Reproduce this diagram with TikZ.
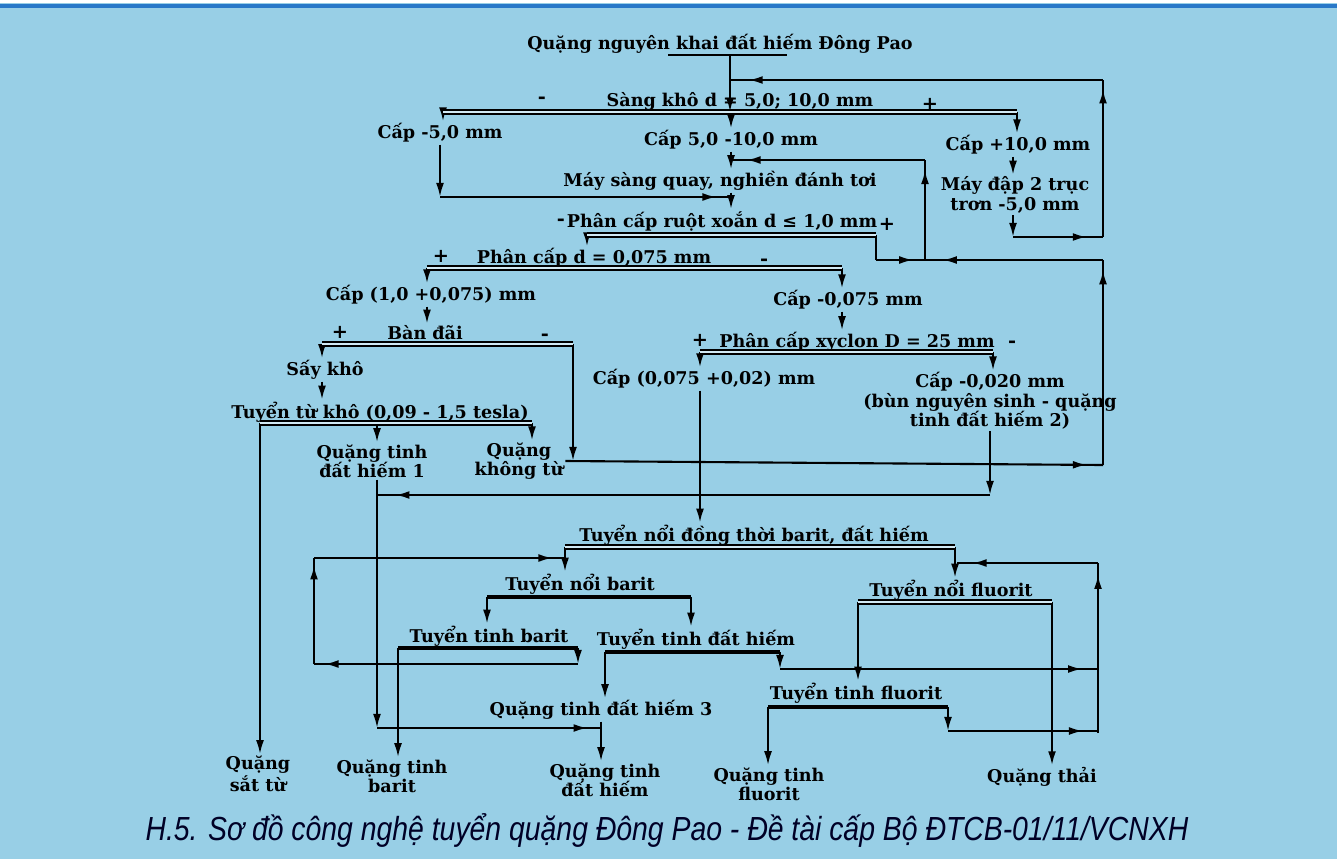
\documentclass[tikz,border=0pt]{standalone}
\usepackage{fontspec}
\newfontfamily\diagfont{DejaVu Serif}
\newfontfamily\capfont{Liberation Sans}[FakeStretch=0.85]
\usetikzlibrary{arrows.meta,decorations.markings}
\definecolor{paper}{RGB}{152,207,230}
\definecolor{rule}{RGB}{40,120,200}
\tikzset{
  lbl/.style={font=\diagfont\bfseries\fontsize{10}{11}\selectfont,inner sep=1pt,align=center},
  sgn/.style={font=\diagfont\bfseries\fontsize{11}{11}\selectfont,inner sep=0pt},
  wire/.style={line width=1.2pt},
  flow/.style={wire,-{Latex[length=8pt,width=4.5pt]}},
  midarrow/.style={wire,postaction={decorate,decoration={markings,
      mark=at position #1 with {\arrow{Latex[length=8pt,width=4.5pt]}}}}},
  splitbar/.style={double=white!55!paper,double distance=1pt,line width=1.3pt},
  heavybar/.style={line width=2.6pt},
}
\begin{document}
\begin{tikzpicture}[x=0.02cm,y=-0.02cm]
\useasboundingbox (0,0) rectangle (1337,859);
\fill[paper] (0,0) rectangle (1337,859);
\fill[white] (0,0) rectangle (1337,3);
\draw[rule,line width=2pt] (0,6) -- (1337,6);

% stages and products
\node[lbl] (title) at (720,44) {Quặng nguyên khai đất hiếm Đông Pao};
\node[lbl] (sang) at (740,101) {Sàng khô d = 5,0; 10,0 mm};
\node[lbl] (c5) at (440,133) {Cấp -5,0 mm};
\node[lbl] (c510) at (731,140) {Cấp 5,0 -10,0 mm};
\node[lbl] (c10) at (1018,145) {Cấp +10,0 mm};
\node[lbl] (sq) at (720,181) {Máy sàng quay, nghiền đánh tơi};
\node[lbl] (dap) at (1015,195) {Máy đập 2 trục\\trơn -5,0 mm};
\node[lbl] (rx) at (722,221) {Phân cấp ruột xoắn d ≤ 1,0 mm};
\node[lbl] (pc1) at (594,258) {Phân cấp d = 0,075 mm};
\node[lbl] (c1) at (431,295) {Cấp (1,0 +0,075) mm};
\node[lbl] (c0075) at (848,300) {Cấp -0,075 mm};
\node[lbl] (bd) at (425,333) {Bàn đãi};
\node[lbl] (xc) at (857,342) {Phân cấp xyclon D = 25 mm};
\node[lbl] (sk) at (325,370) {Sấy khô};
\node[lbl] (c002) at (704,379) {Cấp (0,075 +0,02) mm};
\node[lbl] (c0020) at (990,401) {Cấp -0,020 mm\\(bùn nguyên sinh - quặng\\tinh đất hiếm 2)};
\node[lbl] (ttk) at (380,412) {Tuyển từ khô (0,09 - 1,5 tesla)};
\node[lbl] (qt1) at (372,461) {Quặng tinh\\đất hiếm 1};
\node[lbl] (qkt) at (519,461) {Quặng\\không từ};
\node[lbl] (tndt) at (754,535) {Tuyển nổi đồng thời barit, đất hiếm};
\node[lbl] (tnb) at (580,584) {Tuyển nổi barit};
\node[lbl] (tnf) at (951,590) {Tuyển nổi fluorit};
\node[lbl] (ttb) at (489,636) {Tuyển tinh barit};
\node[lbl] (ttd) at (696,639) {Tuyển tinh đất hiếm};
\node[lbl] (ttf) at (856,693) {Tuyển tinh fluorit};
\node[lbl] (qt3) at (601,710) {Quặng tinh đất hiếm 3};
\node[lbl] (qst) at (258,774) {Quặng\\sắt từ};
\node[lbl] (qtb) at (392,776) {Quặng tinh\\barit};
\node[lbl] (qtd) at (605,780) {Quặng tinh\\đất hiếm};
\node[lbl] (qtf) at (769,784) {Quặng tinh\\fluorit};
\node[lbl] (qth) at (1042,777) {Quặng thải};

% signs of the classifier outputs
\node[sgn] (m1) at (542,100) {-};  \node[sgn] (p1) at (930,104) {+};
\node[sgn] (m2) at (561,222) {-};  \node[sgn] (p2) at (887,224) {+};
\node[sgn] (p3) at (441,256) {+};  \node[sgn] (m3) at (764,262) {-};
\node[sgn] (p4) at (340,332) {+};  \node[sgn] (m4) at (545,337) {-};
\node[sgn] (p5) at (700,340) {+};  \node[sgn] (m5) at (1012,344) {-};

% split bars
\coordinate (b1l) at (443,112); \coordinate (b1r) at (1017,112);
\coordinate (b2l) at (587,235); \coordinate (b2r) at (876,235);
\coordinate (b3l) at (427,268); \coordinate (b3r) at (842,268);
\coordinate (b4l) at (322,344); \coordinate (b4r) at (573,344);
\coordinate (b5l) at (260,423); \coordinate (b5r) at (532,423);
\coordinate (b6l) at (700,352); \coordinate (b6r) at (993,352);
\coordinate (b7l) at (565,547); \coordinate (b7r) at (955,547);
\coordinate (b8l) at (487,597); \coordinate (b8r) at (691,597);
\coordinate (b9l) at (858,602); \coordinate (b9r) at (1052,602);
\coordinate (b10l) at (398,648); \coordinate (b10r) at (578,648);
\coordinate (b11l) at (605,652); \coordinate (b11r) at (780,652);
\coordinate (b12l) at (768,707); \coordinate (b12r) at (948,707);

% junctions
\coordinate (feed) at (730,55);
\coordinate (xd) at (1013,0); \coordinate (x1) at (377,0);
\coordinate (k1) at (1013,237); \coordinate (k2) at (1103,237);
\coordinate (k3) at (1103,80);  \coordinate (k4) at (730,80);
\coordinate (j5) at (440,197);  \coordinate (jsq) at (731,197);
\coordinate (j6) at (876,260);  \coordinate (j7) at (925,260);
\coordinate (j8) at (925,160);  \coordinate (j9) at (731,160);
\coordinate (j10) at (1103,260); \coordinate (j11) at (1103,465);
\coordinate (j20) at (377,728); \coordinate (j21) at (990,495);
\coordinate (j30) at (578,664); \coordinate (j31) at (314,664);
\coordinate (j32) at (314,558); \coordinate (j33) at (565,558);
\coordinate (j40) at (1098,733); \coordinate (j41) at (1098,563);
\coordinate (j42) at (957,563);
\coordinate (j50) at (780,669); \coordinate (j51) at (948,731);

% crushing and screening
\draw[wire] (668,55) -- (787,55);
\draw[flow] (feed) -- (feed |- b1l);
\draw[flow] (b1l) -- (b1l |- c5.north);
\draw[flow] (c510.north |- b1l) -- (c510.north);
\draw[flow] (b1r) -- (b1r |- c10.north);
\draw[flow] (xd |- c10.south) -- (xd |- dap.north);
\draw[flow] (xd |- dap.south) -- (k1);
\draw[midarrow=0.82] (k1) -- (k2);
\draw[midarrow=0.94] (k2) -- (k3);
\draw[midarrow=0.95] (k3) -- (k4);
\draw[flow] (c510.south) -- (c510.south |- sq.north);
\draw[flow] (c5.south) -- (j5);
\draw[midarrow=0.95] (j5) -- (jsq);
\draw[flow] (jsq |- sq.south) -- (jsq |- rx.north);

% spiral classifier and returns
\draw[flow] (b2l) -- (b2l |- pc1.north);
\draw[wire] (b2r) -- (j6);
\draw[midarrow=0.76] (j6) -- (j7);
\draw[midarrow=0.9] (j7) -- (j8);
\draw[midarrow=0.92] (j8) -- (j9);
\draw[midarrow=0.97] (qkt.east) -- (j11);
\draw[midarrow=0.95] (j11) -- (j10);
\draw[midarrow=0.9] (j10) -- (j7);

% 0,075 mm classification
\draw[flow] (b3l) -- (b3l |- c1.north);
\draw[flow] (b3r) -- (b3r |- c0075.north);
\draw[flow] (b3l |- c1.south) -- (b3l |- bd.north);
\draw[flow] (b3r |- c0075.south) -- (b3r |- xc.north);

% shaking table and dry magnetic separation
\draw[flow] (b4l) -- (b4l |- sk.north);
\draw[flow] (b4l |- sk.south) -- (b4l |- ttk.north);
\draw[flow] (b4r) -- (b4r |- qkt.east);
\draw[flow] (b5l) -- (b5l |- qst.north);
\draw[flow] (x1 |- b5l) -- (x1 |- qt1.north);
\draw[flow] (b5r) -- (b5r |- qkt.north);
\draw[flow] (x1 |- qt1.south) -- (j20);
\draw[midarrow=0.94] (j20) -- (j20 -| qt3.south);
\draw[flow] (qt3.south) -- (qt3.south |- qtd.north);

% hydrocyclone
\draw[flow] (b6l) -- (b6l |- c002.north);
\draw[flow] (b6r) -- (b6r |- c0020.north);
\draw[flow] (b6l |- c002.south) -- (b6l |- tndt.north);
\draw[flow] (c0020.south) -- (j21);
\draw[midarrow=0.97] (j21) -- (j21 -| x1);

% flotation
\draw[flow] (b7l) -- (b7l |- tnb.north);
\draw[flow] (b7r) -- (b7r |- tnf.north);
\draw[flow] (b8l) -- (b8l |- ttb.north);
\draw[flow] (b8r) -- (b8r |- ttd.north);
\draw[flow] (b10l) -- (b10l |- qtb.north);
\draw[flow] (b10r) -- (j30);
\draw[midarrow=0.96] (j30) -- (j31);
\draw[midarrow=0.93] (j31) -- (j32);
\draw[midarrow=0.95] (j32) -- (j33);
\draw[flow] (b11l) -- (b11l |- qt3.north);
\draw[flow] (b11r) -- (j50);
\draw[midarrow=0.95] (j50) -- (j50 -| j40);
\draw[flow] (b9l) -- (b9l |- ttf.north);
\draw[flow] (b9r) -- (b9r |- qth.north);
\draw[flow] (b12l) -- (b12l |- qtf.north);
\draw[flow] (b12r) -- (j51);
\draw[midarrow=0.9] (j51) -- (j51 -| j40);
\draw[midarrow=0.93] (j40) -- (j41);
\draw[midarrow=0.89] (j41) -- (j42);

% bars on top
\draw[splitbar] (b1l) -- (b1r);
\draw[splitbar] (b2l) -- (b2r);
\draw[splitbar] (b3l) -- (b3r);
\draw[splitbar] (b4l) -- (b4r);
\draw[splitbar] (b5l) -- (b5r);
\draw[splitbar] (b6l) -- (b6r);
\draw[splitbar] (b7l) -- (b7r);
\draw[heavybar] (b8l) -- (b8r);
\draw[splitbar] (b9l) -- (b9r);
\draw[heavybar] (b10l) -- (b10r);
\draw[heavybar] (b11l) -- (b11r);
\draw[heavybar] (b12l) -- (b12r);

\node[font=\capfont\itshape\fontsize{19}{22}\selectfont,text=black!85!blue] (cap) at (667,830)
  {H.5. Sơ đồ công nghệ tuyển quặng Đông Pao - Đề tài cấp Bộ ĐTCB-01/11/VCNXH};
\end{tikzpicture}
\end{document}
